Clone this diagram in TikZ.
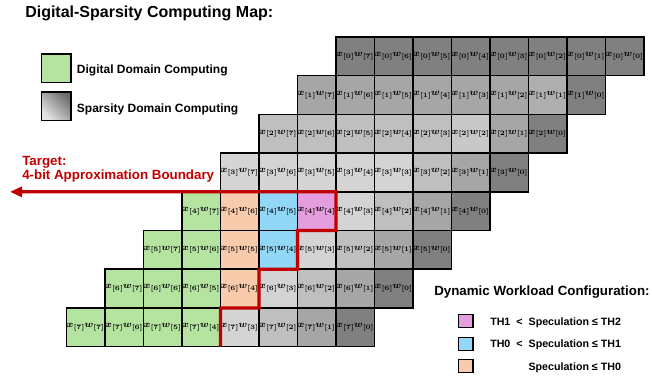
\documentclass[tikz,border=0pt]{standalone}
\usepackage[no-math]{fontspec}
\newfontfamily\labelsans{Liberation Sans}
\usetikzlibrary{arrows.meta,positioning}

\definecolor{digigreen}{RGB}{181,227,160}
\definecolor{specpeach}{RGB}{248,203,173}
\definecolor{specblue}{RGB}{146,215,245}
\definecolor{specpink}{RGB}{228,158,221}
\definecolor{boundred}{RGB}{192,0,0}
\definecolor{gray0}{RGB}{128,128,128}
\definecolor{gray1}{RGB}{166,166,166}
\definecolor{gray2}{RGB}{191,191,191}
\definecolor{gray3}{RGB}{212,212,212}
\definecolor{graydiag1}{RGB}{175,175,175}
\definecolor{graydiag2}{RGB}{200,200,200}

\begin{document}
\begin{tikzpicture}[x=0.75pt,y=0.75pt,yscale=-1,xscale=1,
  cell/.style={draw=black, line width=1.1pt, outer sep=0pt, inner sep=0pt,
    minimum width=28.875pt, minimum height=29.03pt,
    font=\fontsize{7}{8}\selectfont\boldmath},
  legbox/.style={draw=black, line width=1.1pt, inner sep=0pt,
    minimum width=22pt, minimum height=21.5pt},
  keybox/.style={draw=black, line width=1pt, inner sep=0pt,
    minimum width=10.9pt, minimum height=9.75pt},
  heading/.style={anchor=base west, inner sep=0pt, font=\labelsans\bfseries\fontsize{12}{14}\selectfont},
  subheading/.style={anchor=base west, inner sep=0pt, font=\labelsans\bfseries\fontsize{10}{12}\selectfont},
  legtext/.style={anchor=base west, inner sep=0pt, font=\labelsans\bfseries\fontsize{9}{11}\selectfont},
  keytext/.style={anchor=base west, inner sep=0pt, font=\labelsans\bfseries\fontsize{8}{10}\selectfont},
  redtext/.style={anchor=base west, inner sep=0pt, text=boundred, font=\labelsans\bfseries\fontsize{10}{12}\selectfont},
  boundary/.style={draw=boundred, line width=2.4pt, line join=miter}]
\useasboundingbox (0,0) rectangle (652,379);

% Title
\node[heading] (title) at (25,17.5) {Digital-Sparsity Computing Map:};

% Legend: computing domains
\node[legbox, fill=digigreen] (diglegend) at (56.3,68.3) {};
\node[legtext] (diglabel) at (76.7,73.3) {Digital Domain Computing};
\node[legbox, top color=gray0!85!black, bottom color=gray3!60!white, shading angle=-45] (sparlegend) at (56.3,106.3) {};
\node[legtext] (sparlabel) at (76.7,112.3) {Sparsity Domain Computing};

% Partial products x[i]w[j]
\foreach \ri in {0,...,7}{
  \foreach \wi in {0,...,7}{
    \pgfmathtruncatemacro{\lvl}{min(\ri,\wi)}
    \pgfmathtruncatemacro{\sm}{\ri+\wi}
    \edef\cfill{gray\lvl}
    \ifnum\ri=\wi \ifnum\ri>0 \ifnum\ri<3 \edef\cfill{graydiag\ri}\fi\fi\fi
    \ifnum\ri>3 \ifnum\wi>3
      \ifnum\sm>10 \def\cfill{digigreen}\fi
      \ifnum\sm=10 \def\cfill{specpeach}\fi
      \ifnum\sm=9 \def\cfill{specblue}\fi
      \ifnum\sm=8 \def\cfill{specpink}\fi
    \fi\fi
    \node[cell, fill=\cfill] (c\ri\wi) at ({355.25+38.5*(7-\wi-\ri)},{56.35+38.7*\ri}) {$x_{[\ri]}\mkern-1mu w_{[\wi]}$};
  }
}

% 4-bit approximation boundary
\coordinate (arrowtip) at (10,191.8);
\draw[boundary, -{Triangle[length=9pt,width=7.5pt]}] (c74.south east) -- (c74.north east) -- (c64.south east) -- (c64.north east) -- (c54.south east) -- (c54.north east) -- (c44.south east) -- (c44.north east) -- (arrowtip);
\node[redtext] (target) at (22,165) {Target:};
\node[redtext] (approx) at (22,179.5) {4-bit Approximation Boundary};

% Legend: dynamic workload
\node[subheading] (dynhead) at (434,295) {Dynamic Workload Configuration:};
\node[keybox, fill=specpink] (pinkkey) at (465.8,321) {};
\node[keybox, fill=specblue] (bluekey) at (465.8,343.8) {};
\node[keybox, fill=specpeach] (peachkey) at (465.8,366.2) {};
\node[keytext] (pinklabel) at (490,325) {TH1\hspace{4.5pt}<\hspace{4.5pt}Speculation ≤ TH2};
\node[keytext] (bluelabel) at (490,347.7) {TH0\hspace{4.5pt}<\hspace{4.5pt}Speculation ≤ TH1};
\node[keytext] (peachlabel) at (528.3,370) {Speculation ≤ TH0};

\end{tikzpicture}
\end{document}
